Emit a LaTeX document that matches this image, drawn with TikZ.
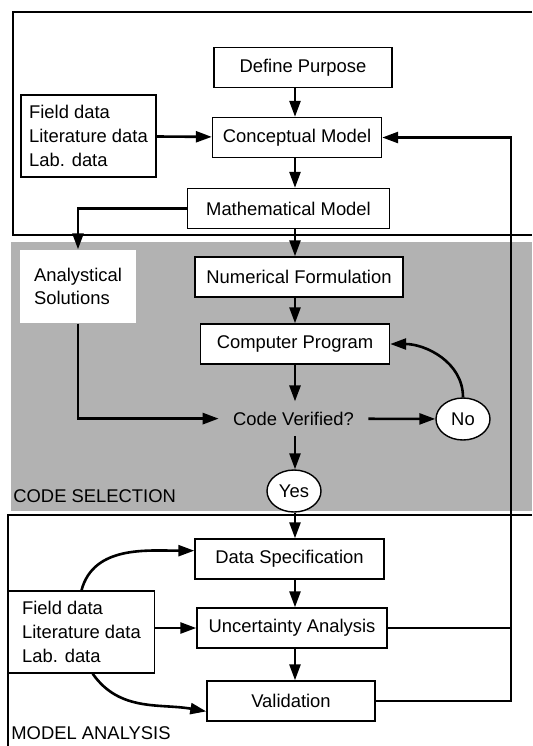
\documentclass[tikz,border=0pt]{standalone}
\usepackage{fontspec}
\setmainfont{Liberation Sans}
\usetikzlibrary{arrows.meta,shapes.geometric}

\tikzset{
  box/.style={draw, line width=0.7pt, fill=white, minimum height=20pt, inner sep=2pt},
  data/.style={box, align=left, minimum height=41pt},
  oval/.style={ellipse, draw, line width=0.7pt, fill=white, minimum width=27pt, minimum height=21pt, inner sep=0pt},
}

\begin{document}
\begin{tikzpicture}[x=0.5pt, y=-0.5pt, font=\fontsize{9.2}{11.8}\selectfont,
    >={Triangle[length=8pt,width=5.5pt]}]
  \useasboundingbox (0,0) rectangle (532,746);
  % the three regions
  \fill[black!30] (11,242) rectangle (532,511);
  \draw[line width=0.8pt] (532,12) -| (13,235) -- (532,235);
  \draw[line width=0.8pt] (532,515) -| (8,746);
  \coordinate (col) at (295,0);
  \coordinate (fb) at (511,0);

  \node[box, minimum width=89pt]   (dp)  at (303,67.5) {Define Purpose};
  \node[box, minimum width=84.5pt] (cm)  at (297,137.5) {Conceptual Model};
  \node[data, minimum width=67.5pt] (field1) at (88.5,136) {Field data\\Literature data\\Lab. data};
  \node[box, minimum width=101pt]  (mm)  at (288.5,208.5) {Mathematical Model};
  \node[box, draw=none, align=left, minimum width=58pt, minimum height=36.5pt] (as) at (78,286.5) {Analystical\\Solutions};
  \node[box, minimum width=104pt]  (nf)  at (299,277) {Numerical Formulation};
  \node[box, minimum width=94.5pt] (cp)  at (295,344) {Computer Program};
  \node[inner xsep=7pt, inner ysep=5pt] (cv) at (293.5,418.6) {Code Verified?};
  \node[oval] (no)  at (463,419) {No};
  \node[oval] (yes) at (294,491) {Yes};
  \node[anchor=base west, inner sep=0pt] (codesel) at (13,502) {CODE SELECTION};
  \node[box, minimum width=94.5pt] (ds)  at (289.5,559) {Data Specification};
  \node[box, minimum width=95pt]   (ua)  at (292,628) {Uncertainty Analysis};
  \node[box, minimum width=84pt]   (val) at (291,701) {Validation};
  \node[data, minimum width=73pt]  (field2) at (81.5,632) {Field data\\Literature data\\Lab. data};
  \node[anchor=base west, inner sep=0pt] (modelan) at (11,739) {MODEL ANALYSIS};

  \path[->, line width=1.3pt]
  (dp.south -| col)  edge (cm.north -| col)
  (cm.south -| col)  edge (mm.north -| col)
  (mm.south -| col)  edge (nf.north -| col)
  (nf.south -| col)  edge (cp.north -| col)
  (cp.south -| col)  edge (cv.north -| col)
  (cv.south -| col)  edge (yes.north -| col)
  (yes.south -| col) edge (ds.north -| col)
  (ds.south -| col)  edge (ua.north -| col)
  (ua.south -| col)  edge (val.north -| col)
  (field1) edge (cm)
  (cv) edge (no)
  (field2.east |- ua) edge (ua.west)
  ;
  \draw[->, line width=1.3pt] (mm.west) -| (as.north);
  \draw[->, line width=1.3pt] (as.south) |- (cv.west);
  \draw[->, line width=1.3pt] (no.north) to[out=90,in=0] (cp.east);
  \draw[line width=1.3pt] (ua.east) -- (ua.east -| fb);
  \draw[->, line width=1.3pt] (val.east) -| (fb |- cm.east) -- (cm.east);
  \draw[->, line width=1.3pt] (field2.north) to[out=75,in=180] (ds.175);
  \draw[->, line width=1.3pt] (field2.-75) to[out=-55,in=170] (val.187);
\end{tikzpicture}
\end{document}
